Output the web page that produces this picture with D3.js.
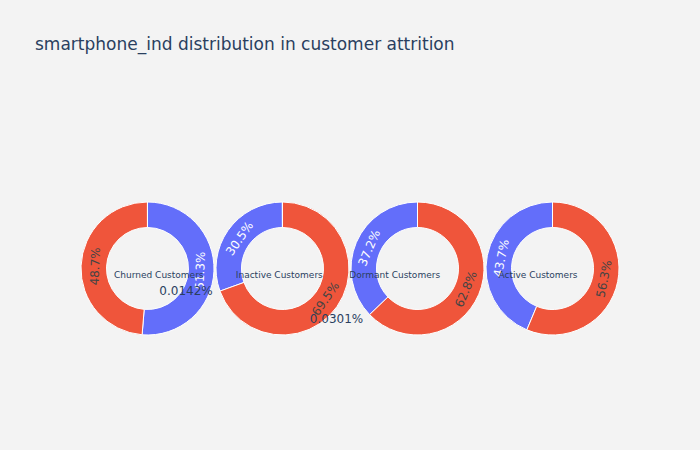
<!DOCTYPE html>
<html>
<head>
<meta charset="utf-8">
<script src="https://cdn.jsdelivr.net/npm/d3@7"></script>
<style>
  html, body { margin: 0; padding: 0; background: #f3f3f3; }
  svg { display: block; }
</style>
</head>
<body>
<div id="chart"></div>
<script>
// ---- data ----
const categories = ["Churned Customers", "Inactive Customers", "Dormant Customers", "Active Customers"];
const sliceLabels = ["1", "0", "unknown"];
const valuesOne = [51.3, 30.5, 37.2, 43.7];      // blue
const valuesZero = [48.7, 69.5, 62.8, 56.3];     // red
const valuesTiny = [0.0142, 0.0301, 0, 0];       // tiny third slice
const titleText = "smartphone_ind distribution in customer attrition";

// ---- layout ----
const W = 700, H = 450;
const colors = d3.scaleOrdinal().domain(sliceLabels).range(["#636efa", "#EF553B", "#00cc96"]);
const xCenter = d3.scaleBand().domain(categories).range([80, 620]);
const cy = 268.5, outerR = 66.5, innerR = 41;
const labelR = 52.5;
const annX = [158.8, 279.3, 394.7, 538];     // center annotation x positions
const tinyOffsets = [[38.5, 22.5], [54, 50.5], [0, 0], [0, 0]];
const font = "'DejaVu Sans', verdana, arial, sans-serif";

const svg = d3.select("#chart").append("svg").attr("width", W).attr("height", H);
svg.append("rect").attr("width", W).attr("height", H).attr("fill", "#f3f3f3");

svg.append("text").attr("x", 35).attr("y", 50)
  .attr("font-family", font).attr("font-size", 17).attr("fill", "#2a3f5f")
  .text(titleText);

const pie = d3.pie().value(d => d.value).sort((a, b) => b.value - a.value)
  .startAngle(0).endAngle(2 * Math.PI);
const arc = d3.arc().innerRadius(innerR).outerRadius(outerR);

categories.forEach((cat, i) => {
  const cx = xCenter(cat) + xCenter.bandwidth() / 2;
  const data = [
    { label: "1", value: valuesOne[i] },
    { label: "0", value: valuesZero[i] },
    { label: "unknown", value: valuesTiny[i] }
  ].filter(d => d.value > 0);
  const total = d3.sum(data, d => d.value);
  const g = svg.append("g").attr("transform", `translate(${cx},${cy})`);
  const arcs = pie(data);
  g.selectAll("path").data(arcs).join("path")
    .attr("d", arc)
    .attr("fill", d => colors(d.data.label))
    .attr("stroke", "#ffffff").attr("stroke-width", 1);

  arcs.forEach(a => {
    const pct = a.data.value / total * 100;
    if (a.data.label === "unknown") {
      const off = tinyOffsets[i];
      g.append("text").attr("x", off[0]).attr("y", off[1])
        .attr("text-anchor", "middle").attr("dy", "0.35em")
        .attr("font-family", font).attr("font-size", 12).attr("fill", "#2a3f5f")
        .text(d3.format(".3")(pct) + "%");
      return;
    }
    const mid = (a.startAngle + a.endAngle) / 2;
    const x = labelR * Math.sin(mid), y = -labelR * Math.cos(mid);
    let rot = mid * 180 / Math.PI;
    while (rot > 90) rot -= 180;
    while (rot < -90) rot += 180;
    g.append("text")
      .attr("transform", `translate(${x},${y}) rotate(${rot})`)
      .attr("text-anchor", "middle").attr("dy", "0.35em")
      .attr("font-family", font).attr("font-size", 12)
      .attr("fill", a.data.label === "1" ? "#ffffff" : "#444444")
      .text(d3.format(".1f")(pct) + "%");
  });

  svg.append("text").attr("x", annX[i]).attr("y", cy + 6)
    .attr("text-anchor", "middle").attr("dy", "0.35em")
    .attr("font-family", font).attr("font-size", 9).attr("fill", "#2a3f5f")
    .text(cat);
});
</script>
</body>
</html>
